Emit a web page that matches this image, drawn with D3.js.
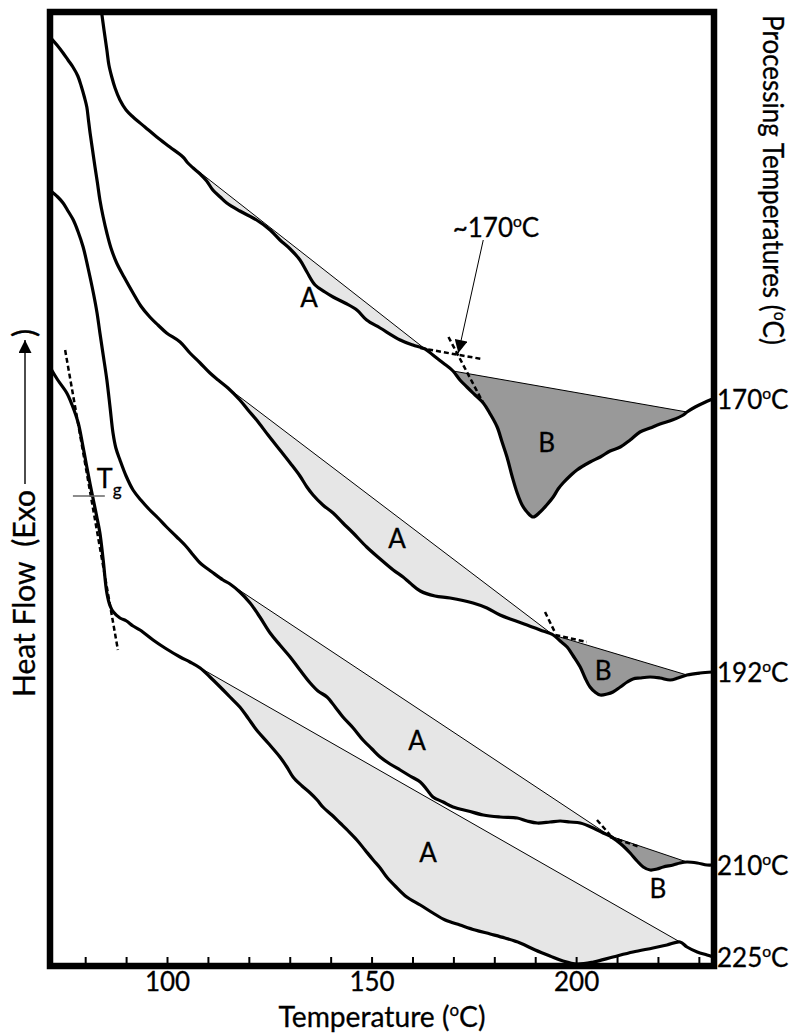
<!DOCTYPE html>
<html>
<head>
<meta charset="utf-8">
<script src="https://cdn.jsdelivr.net/npm/d3@7"></script>
<style>
  body { margin: 0; background: #fff; }
  text { font-family: Lato, "Open Sans", sans-serif; fill: #000; stroke: #000; stroke-width: 0.3px; }
</style>
</head>
<body>
<svg id="vis"></svg>
<script>
// DSC traces: [temperature (°C), heat flow (a.u.)]
const curve170 = [[84.0,9.54],[84.6,9.36],[85.3,9.16],[85.8,9.01],[86.5,8.89],[87.3,8.78],[88.5,8.66],[90.0,8.56],[91.7,8.49],[94.6,8.39],[97.5,8.29],[100.7,8.19],[103.9,8.09],[105.1,8.03],[106.4,7.98],[108.1,7.92],[109.7,7.85],[111.2,7.76],[113.0,7.69],[114.6,7.63],[117.8,7.55],[121.9,7.46],[125.2,7.36],[127.6,7.26],[130.1,7.17],[132.5,7.06],[134.2,6.94],[136.2,6.81],[138.6,6.74],[140.6,6.69],[143.5,6.63],[146.4,6.56],[148.8,6.46],[152.1,6.38],[157.0,6.26],[160.1,6.21],[163.1,6.17],[165.0,6.11],[167.5,6.03],[169.9,5.95],[171.6,5.86],[173.3,5.79],[175.3,5.71],[177.3,5.63],[179.0,5.52],[180.7,5.39],[181.9,5.24],[183.1,5.09],[184.4,4.89],[185.6,4.73],[186.8,4.61],[188.0,4.54],[189.5,4.49],[191.2,4.54],[192.8,4.61],[194.4,4.69],[195.6,4.77],[196.8,4.83],[198.5,4.90],[200.2,4.96],[203.4,5.04],[205.9,5.09],[208.3,5.15],[210.8,5.19],[213.2,5.26],[215.6,5.34],[218.1,5.38],[220.5,5.42],[223.5,5.46],[226.2,5.51],[227.1,5.54],[229.1,5.59],[231.1,5.63],[233.3,5.67]];
const curve192 = [[71.4,9.29],[73.1,9.21],[74.6,9.13],[75.8,9.06],[77.0,8.99],[78.2,8.90],[79.1,8.79],[79.8,8.69],[80.4,8.59],[80.8,8.46],[81.2,8.33],[81.8,8.16],[82.4,7.99],[83.0,7.83],[83.6,7.66],[84.4,7.49],[85.3,7.33],[86.3,7.18],[87.7,7.03],[89.5,6.89],[91.7,6.73],[93.6,6.60],[95.8,6.49],[97.8,6.41],[99.9,6.33],[103.2,6.24],[105.6,6.13],[108.1,6.03],[110.5,5.93],[112.5,5.86],[114.9,5.78],[117.8,5.66],[119.8,5.56],[121.9,5.46],[124.7,5.31],[127.6,5.16],[130.1,5.03],[132.5,4.90],[134.2,4.79],[135.7,4.71],[138.1,4.61],[140.6,4.53],[143.0,4.43],[145.5,4.33],[148.8,4.19],[152.1,4.07],[155.3,3.96],[157.7,3.89],[159.4,3.83],[161.9,3.75],[165.5,3.70],[169.2,3.68],[174.8,3.63],[178.2,3.58],[181.4,3.51],[184.6,3.46],[188.0,3.41],[191.2,3.36],[194.4,3.31],[196.1,3.25],[197.8,3.19],[199.3,3.10],[201.0,2.99],[202.2,2.88],[203.4,2.79],[204.6,2.74],[205.9,2.71],[207.6,2.72],[209.0,2.74],[210.8,2.79],[212.5,2.84],[213.9,2.87],[215.6,2.88],[218.1,2.89],[220.5,2.88],[223.0,2.86],[224.9,2.88],[227.1,2.91],[230.3,2.93],[233.3,2.94]];
const curve210 = [[71.4,7.76],[71.9,7.74],[73.3,7.69],[74.6,7.63],[75.8,7.55],[77.1,7.46],[78.2,7.35],[79.5,7.19],[80.7,6.98],[82.0,6.73],[82.9,6.53],[83.6,6.33],[84.4,6.11],[85.3,5.86],[86.1,5.58],[86.8,5.33],[87.5,5.18],[88.5,5.06],[90.0,4.90],[91.7,4.76],[93.6,4.66],[95.8,4.56],[97.8,4.48],[99.9,4.39],[102.4,4.29],[104.8,4.19],[106.4,4.11],[108.1,4.03],[111.0,3.94],[113.7,3.86],[115.4,3.82],[117.8,3.74],[120.3,3.63],[122.7,3.49],[125.2,3.33],[127.6,3.21],[130.1,3.09],[132.5,2.96],[135.0,2.83],[136.9,2.75],[139.1,2.69],[141.1,2.59],[143.0,2.49],[145.5,2.38],[147.9,2.26],[150.1,2.17],[152.1,2.09],[154.5,2.02],[157.0,1.96],[159.4,1.90],[161.9,1.84],[163.6,1.76],[165.0,1.69],[167.5,1.64],[169.9,1.59],[173.6,1.55],[177.3,1.51],[181.4,1.49],[185.6,1.48],[188.0,1.45],[190.5,1.43],[193.6,1.44],[196.1,1.45],[198.5,1.44],[201.0,1.43],[204.2,1.38],[206.6,1.33],[208.3,1.30],[210.0,1.25],[211.5,1.20],[213.2,1.13],[214.9,1.05],[216.4,0.99],[218.1,0.96],[219.8,0.97],[221.3,0.99],[223.7,1.01],[225.4,1.03],[227.1,1.04],[229.6,1.03],[232.0,1.01],[233.3,1.01]];
const curve225 = [[71.4,5.99],[71.8,5.96],[73.3,5.86],[75.5,5.73],[76.8,5.61],[78.3,5.43],[79.3,5.23],[80.4,4.99],[81.2,4.82],[82.0,4.66],[82.8,4.50],[83.6,4.33],[84.4,4.06],[85.3,3.73],[86.1,3.60],[86.9,3.54],[88.5,3.48],[90.1,3.45],[91.7,3.40],[93.4,3.36],[96.6,3.26],[99.5,3.18],[103.2,3.09],[105.6,3.04],[108.1,2.98],[110.5,2.89],[113.0,2.79],[115.4,2.69],[117.8,2.59],[119.8,2.48],[121.9,2.36],[124.7,2.23],[127.6,2.09],[129.3,1.99],[130.8,1.89],[133.0,1.80],[135.0,1.73],[136.7,1.66],[138.1,1.59],[140.3,1.51],[142.3,1.43],[144.3,1.35],[146.4,1.26],[148.4,1.16],[150.4,1.06],[152.1,0.98],[153.7,0.89],[156.0,0.79],[158.6,0.69],[161.9,0.61],[165.0,0.53],[168.0,0.46],[171.6,0.41],[175.3,0.36],[179.0,0.32],[182.6,0.28],[186.3,0.23],[190.0,0.16],[193.6,0.10],[196.8,0.05],[200.2,0.02],[204.2,0.04],[209.0,0.09],[213.9,0.14],[218.8,0.18],[222.2,0.21],[225.4,0.24],[227.1,0.19],[229.6,0.14],[232.0,0.11],[233.5,0.09]];

const procTemps = ["170", "192", "210", "225"];
// temperature span of the straight baselines drawn under peaks A and B
const regionA = [[105.1, 163.1], [114.9, 194.4], [115.4, 208.3], [105.6, 225.4]];
const regionB = [[169.9, 227.1], [194.4, 227.1], [208.3, 227.1], null];
const labelA = [[134.7, 6.59], [156.2, 4.18], [161.1, 2.16], [163.8, 1.04]];
const labelB = [[192.8, 5.14], [206.6, 2.86], [220.0, 0.68]];
// onset tangents (dashed)
const onsetDashes = [
  [[161.9, 6.18], [176.9, 6.07]], [[168.8, 6.29], [177.3, 5.63]],
  [[192.4, 3.54], [194.9, 3.33]], [[194.9, 3.31], [202.6, 3.24]],
  [[205.1, 1.46], [208.3, 1.31]], [[208.3, 1.29], [215.6, 1.19]]
];
const tgTangent = [[75.1, 6.16], [88.0, 3.16]];
const tgMark = [[77.0, 4.70], [84.8, 4.70]];
const onsetNote = { text: "~170", at: [180.4, 7.29], arrow: [[177.3, 7.26], [171.2, 6.13]] };
const xTicks = d3.range(80, 231, 10);
const xTickLabels = [100, 150, 200];

const W = 794, H = 1034;
const frame = { left: 50, right: 714, top: 12, bottom: 966 };

const svg = d3.select("#vis").attr("width", W).attr("height", H);

const x = d3.scaleLinear().domain([71.4, 233.7]).range([frame.left, frame.right]);
const y = d3.scaleLinear().domain([0, 9.54]).range([frame.bottom, frame.top]);

const defs = svg.append("defs");
defs.append("clipPath").attr("id", "plotClip")
  .append("rect")
    .attr("x", frame.left).attr("y", frame.top)
    .attr("width", frame.right - frame.left).attr("height", frame.bottom - frame.top);
defs.append("marker")
    .attr("id", "arrowHead")
    .attr("viewBox", "0 0 10 10")
    .attr("refX", 10).attr("refY", 5)
    .attr("markerUnits", "userSpaceOnUse")
    .attr("markerWidth", 15).attr("markerHeight", 13)
    .attr("orient", "auto")
  .append("path").attr("d", "M0,0L10,5L0,10Z").attr("fill", "#000");

const plot = svg.append("g").attr("clip-path", "url(#plotClip)");

const smooth = d3.curveCatmullRom.alpha(0.5);
const line = d3.line().x(d => x(d[0])).y(d => y(d[1])).curve(smooth);

const curves = [curve170, curve192, curve210, curve225];

function shade(pts, span, fill) {
  const p1 = pts.find(p => p[0] === span[0]);
  const p2 = pts.find(p => p[0] === span[1]);
  const base = d3.scaleLinear().domain([p1[0], p2[0]]).range([p1[1], p2[1]]);
  const seg = pts.filter(p => p[0] >= span[0] && p[0] <= span[1]);
  const area = d3.area()
    .x(d => x(d[0]))
    .y0(d => y(base(d[0])))
    .y1(d => y(d[1]))
    .curve(smooth);
  plot.append("path").datum(seg)
    .attr("d", area).attr("fill", fill).attr("stroke", "none");
  plot.append("line")
    .attr("x1", x(p1[0])).attr("y1", y(p1[1]))
    .attr("x2", x(p2[0])).attr("y2", y(p2[1]))
    .attr("stroke", "#000").attr("stroke-width", 1);
}

curves.forEach((pts, i) => {
  shade(pts, regionA[i], "#e6e6e6");
  if (regionB[i]) shade(pts, regionB[i], "#999999");
});

plot.selectAll("path.trace")
  .data(curves)
  .join("path")
    .attr("class", "trace")
    .attr("d", line)
    .attr("fill", "none")
    .attr("stroke", "#000")
    .attr("stroke-width", 3.2)
    .attr("stroke-linejoin", "round");

// dashed tangents
const straight = d3.line().x(d => x(d[0])).y(d => y(d[1]));
plot.selectAll("path.dash")
  .data(onsetDashes.concat([tgTangent]))
  .join("path")
    .attr("class", "dash")
    .attr("d", straight)
    .attr("fill", "none")
    .attr("stroke", "#000")
    .attr("stroke-width", 2.5)
    .attr("stroke-dasharray", "5,3");

plot.append("path").datum(tgMark)
  .attr("d", straight)
  .attr("stroke", "#666").attr("stroke-width", 1.5);

// frame
svg.append("rect")
  .attr("x", frame.left).attr("y", frame.top)
  .attr("width", frame.right - frame.left).attr("height", frame.bottom - frame.top)
  .attr("fill", "none").attr("stroke", "#000").attr("stroke-width", 6.5);

// x axis: inward ticks, labels at 100/150/200
const xAxis = svg.append("g")
  .attr("transform", `translate(0,${frame.bottom})`)
  .call(d3.axisBottom(x)
    .tickValues(xTicks)
    .tickSize(-9)
    .tickPadding(7)
    .tickFormat(d => xTickLabels.includes(d) ? d : ""));
xAxis.select(".domain").remove();
xAxis.selectAll(".tick line").attr("stroke", "#000").attr("stroke-width", 2);
xAxis.selectAll(".tick text")
  .attr("font-family", "Lato, 'Open Sans', sans-serif")
  .attr("font-size", 26);

// text with superscript "o" degree mark
function degText(sel, prefix, size) {
  sel.append("tspan").text(prefix);
  sel.append("tspan").attr("font-size", size * 0.6).attr("dy", -size * 0.38).text("o");
  sel.append("tspan").attr("dy", size * 0.38).text("C");
}

// scale a text group along its reading direction to a target length
function fitLength(g, target, place) {
  const len = g.node().getBBox().width;
  g.attr("transform", `${place} scale(${target / len},1)`);
}

const xTitleG = svg.append("g");
const xTitle = xTitleG.append("text")
  .attr("text-anchor", "middle")
  .attr("font-size", 29);
degText(xTitle, "Temperature (", 29);
xTitle.append("tspan").text(")");
fitLength(xTitleG, 207, `translate(${(frame.left + frame.right) / 2},1027)`);

// right side: processing temperatures
const rTitleG = svg.append("g");
const rTitle = rTitleG.append("text")
  .attr("text-anchor", "middle")
  .attr("font-size", 28);
degText(rTitle, "Processing Temperatures (", 28);
rTitle.append("tspan").text(")");
fitLength(rTitleG, 330, "translate(763,180) rotate(90)");

curves.forEach((pts, i) => {
  const end = pts[pts.length - 1];
  const t = svg.append("text")
    .attr("x", frame.right + 3)
    .attr("y", y(end[1]) + 10)
    .attr("font-size", 26);
  degText(t, procTemps[i], 26);
});

// left title: text, long arrow, closing bracket
const yTitle = svg.append("g").attr("transform", "translate(35,697) rotate(-90)");
const yText = yTitle.append("text").attr("x", 0).attr("y", 0).attr("font-size", 30)
  .attr("xml:space", "preserve").text("Heat Flow  (Exo");
const L = yText.node().getComputedTextLength();
const titleLen = 370;
yTitle.append("line")
  .attr("x1", L + 6).attr("x2", titleLen - 13)
  .attr("y1", -10).attr("y2", -10)
  .attr("stroke", "#000").attr("stroke-width", 1.4)
  .attr("marker-end", "url(#arrowHead)");
yTitle.append("text").attr("x", titleLen - 10).attr("y", 0).attr("font-size", 30).text(")");

// peak labels
svg.selectAll("text.labA")
  .data(labelA)
  .join("text")
    .attr("class", "labA")
    .attr("x", d => x(d[0])).attr("y", d => y(d[1]))
    .attr("text-anchor", "middle").attr("font-size", 26)
    .text("A");
svg.selectAll("text.labB")
  .data(labelB)
  .join("text")
    .attr("class", "labB")
    .attr("x", d => x(d[0])).attr("y", d => y(d[1]))
    .attr("text-anchor", "middle").attr("font-size", 26)
    .text("B");

// Tg label
const tg = svg.append("text")
  .attr("x", x(tgMark[1][0]) - 8).attr("y", y(tgMark[0][1]) - 8)
  .attr("font-size", 27);
tg.append("tspan").text("T");
tg.append("tspan").attr("font-size", 17).attr("dy", 8).text("g");

// ~170 °C note with arrow
const note = svg.append("text")
  .attr("x", x(onsetNote.at[0])).attr("y", y(onsetNote.at[1]))
  .attr("text-anchor", "middle").attr("font-size", 26);
degText(note, onsetNote.text, 26);
svg.append("path").datum(onsetNote.arrow)
  .attr("d", straight)
  .attr("stroke", "#000").attr("stroke-width", 1)
  .attr("marker-end", "url(#arrowHead)");
</script>
</body>
</html>
